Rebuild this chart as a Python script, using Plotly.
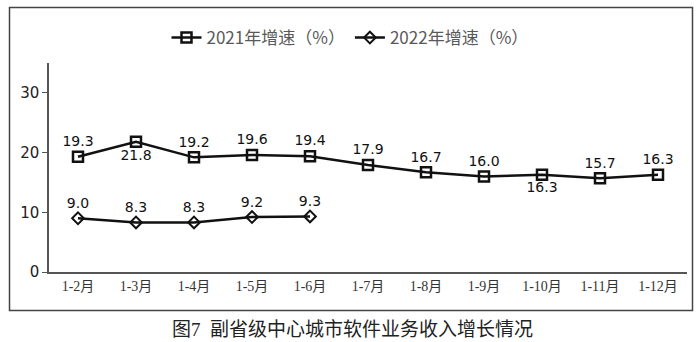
import plotly.graph_objects as go

categories = ["1-2月", "1-3月", "1-4月", "1-5月", "1-6月", "1-7月", "1-8月", "1-9月", "1-10月", "1-11月", "1-12月"]
growth_2021 = [19.3, 21.8, 19.2, 19.6, 19.4, 17.9, 16.7, 16.0, 16.3, 15.7, 16.3]
growth_2022 = [9.0, 8.3, 8.3, 9.2, 9.3]
pos_2021 = ["top center", "bottom center", "top center", "top center", "top center", "top center",
            "top center", "top center", "bottom center", "top center", "top center"]
y_ticks = [0, 10, 20, 30]

fig = go.Figure()
fig.add_trace(go.Scatter(
    x=categories, y=growth_2021, name="2021年增速（%）", mode="lines+markers+text",
    line=dict(color="#111111", width=2.5),
    marker=dict(symbol="square-open", size=10, color="#111111", line=dict(width=2.5)),
    text=[f"{v:.1f}" for v in growth_2021], textposition=pos_2021,
    textfont=dict(family="DejaVu Sans", size=14, color="#111111"),
    cliponaxis=False,
))
fig.add_trace(go.Scatter(
    x=categories[:len(growth_2022)], y=growth_2022, name="2022年增速（%）", mode="lines+markers+text",
    line=dict(color="#111111", width=2.5),
    marker=dict(symbol="diamond-open", size=9, color="#111111", line=dict(width=2)),
    text=[f"{v:.1f}" for v in growth_2022], textposition="top center",
    textfont=dict(family="DejaVu Sans", size=14, color="#111111"),
    cliponaxis=False,
))

# outer frame (paper coords computed from plot area 49..687 x, 63..272 y)
fig.add_shape(type="rect", xref="paper", yref="paper",
              x0=(9.5 - 49) / 638, x1=(692.5 - 49) / 638,
              y0=(272 - 310.5) / 209, y1=(272 - 7.5) / 209,
              line=dict(color="#444444", width=1.5), fillcolor="rgba(0,0,0,0)", layer="below")

fig.add_annotation(text="图7  副省级中心城市软件业务收入增长情况", xref="paper", yref="paper",
                   x=(352 - 49) / 638, y=(272 - 329) / 209, showarrow=False,
                   font=dict(family="Liberation Serif, Noto Sans CJK SC", size=19, color="#222222"),
                   xanchor="center", yanchor="middle")

fig.update_layout(
    width=700, height=342,
    margin=dict(l=49, r=13, t=63, b=70),
    paper_bgcolor="white", plot_bgcolor="white",
    showlegend=True,
    legend=dict(orientation="h", x=(350 - 49) / 638, xanchor="center", y=(272 - 38) / 209, yanchor="middle",
                font=dict(family="Noto Sans CJK SC", size=17, color="#595959"),
                itemwidth=30, bgcolor="rgba(0,0,0,0)"),
    xaxis=dict(type="category", range=[-0.5, 10.5], showline=True, linecolor="#555555", linewidth=1.5,
               ticks="", showgrid=False,
               tickfont=dict(family="Liberation Serif, Noto Sans CJK SC", size=14, color="#333333")),
    yaxis=dict(range=[0, 35], tickvals=y_ticks, showline=True, linecolor="#555555", linewidth=1.5,
               ticks="outside", ticklen=5, tickcolor="#555555", showgrid=False, zeroline=False,
               tickfont=dict(family="DejaVu Sans", size=15, color="#222222")),
)

fig.write_html("out.html")
